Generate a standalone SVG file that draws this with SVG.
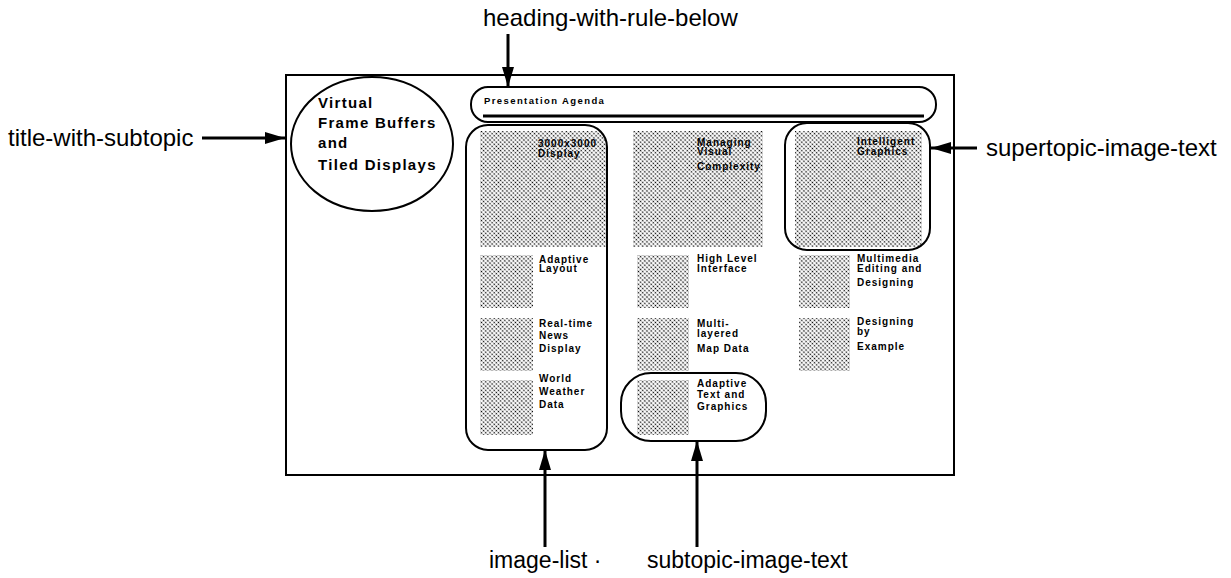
<svg xmlns="http://www.w3.org/2000/svg" width="1231" height="578" viewBox="0 0 1231 578">
  <style>
    .label { font-family: "Liberation Sans", Arial, sans-serif; font-size: 23px; fill: #000; }
    .label-lg { font-size: 24px; }
    .title { font-family: "Liberation Sans", Arial, sans-serif; font-size: 15px; font-weight: bold; letter-spacing: 1.3px; fill: #000; }
    .tiny { font-family: "Liberation Sans", Arial, sans-serif; font-size: 10px; font-weight: bold; letter-spacing: 1px; fill: #000; }
    .head { font-family: "Liberation Sans", Arial, sans-serif; font-size: 9.5px; font-weight: bold; letter-spacing: 1.4px; fill: #000; }
    .outline { fill: none; stroke: #000; stroke-width: 2; }
    .tile { fill: url(#stipple); }
    .conn { stroke: #000; stroke-width: 3; fill: none; marker-end: url(#head); }
  </style>
  <defs>
    <!-- fine halftone dot screen used for image placeholders -->
    <pattern id="stipple" width="3" height="3" patternUnits="userSpaceOnUse" patternTransform="rotate(45)">
      <rect width="3" height="3" fill="#fff"/>
      <circle cx="1.5" cy="1.5" r="0.85" fill="#000"/>
    </pattern>
    <marker id="head" markerUnits="userSpaceOnUse" markerWidth="22" markerHeight="14" refX="20" refY="7" orient="auto">
      <path d="M0,1 L20,7 L0,13 Z" fill="#000"/>
    </marker>
    <clipPath id="listClip">
      <rect x="466" y="125" width="141" height="325" rx="22"/>
    </clipPath>
  </defs>

  <rect width="1231" height="578" fill="#fff"/>

  <!-- page frame -->
  <g id="page">
    <rect x="286" y="75" width="668" height="400" class="outline"/>
  </g>

  <!-- title ellipse -->
  <g id="title-with-subtopic">
    <ellipse cx="372" cy="144" rx="81" ry="67" class="outline"/>
    <text class="title" x="318" y="108">Virtual</text>
    <text class="title" x="318" y="128">Frame Buffers</text>
    <text class="title" x="318" y="148">and</text>
    <text class="title" x="318" y="170">Tiled Displays</text>
  </g>

  <!-- heading bar with rule -->
  <g id="heading-with-rule-below">
    <rect x="471" y="87" width="465" height="35" rx="17" class="outline"/>
    <line x1="483" y1="116" x2="924" y2="116" stroke="#000" stroke-width="3"/>
    <text class="head" x="484" y="104">Presentation Agenda</text>
  </g>

  <!-- left column: image list -->
  <g id="image-list">
    <rect x="480" y="131" width="126" height="116" class="tile" clip-path="url(#listClip)"/>
    <text class="tiny" x="538" y="147">3000x3000</text>
    <text class="tiny" x="538" y="157">Display</text>
    <rect x="480" y="255" width="53" height="53" class="tile"/>
    <text class="tiny" x="539" y="263">Adaptive</text>
    <text class="tiny" x="539" y="272">Layout</text>
    <rect x="480" y="318" width="53" height="53" class="tile"/>
    <text class="tiny" x="539" y="327">Real-time</text>
    <text class="tiny" x="539" y="339">News</text>
    <text class="tiny" x="539" y="352">Display</text>
    <rect x="480" y="380" width="53" height="55" class="tile"/>
    <text class="tiny" x="539" y="382">World</text>
    <text class="tiny" x="539" y="395">Weather</text>
    <text class="tiny" x="539" y="408">Data</text>
    <rect x="466" y="125" width="141" height="325" rx="22" class="outline"/>
  </g>

  <!-- middle column -->
  <g id="middle-column">
    <rect x="633" y="131" width="130" height="116" class="tile"/>
    <text class="tiny" x="697" y="146">Managing</text>
    <text class="tiny" x="697" y="155">Visual</text>
    <text class="tiny" x="697" y="170">Complexity</text>
    <rect x="637" y="255" width="52" height="53" class="tile"/>
    <text class="tiny" x="697" y="262">High Level</text>
    <text class="tiny" x="697" y="272">Interface</text>
    <rect x="637" y="318" width="52" height="53" class="tile"/>
    <text class="tiny" x="697" y="327">Multi-</text>
    <text class="tiny" x="697" y="337">layered</text>
    <text class="tiny" x="697" y="352">Map Data</text>
  </g>

  <!-- subtopic tile -->
  <g id="subtopic-image-text">
    <rect x="637" y="380" width="52" height="55" class="tile"/>
    <text class="tiny" x="697" y="387">Adaptive</text>
    <text class="tiny" x="697" y="398">Text and</text>
    <text class="tiny" x="697" y="410">Graphics</text>
    <rect x="621" y="373" width="145" height="68" rx="30" class="outline"/>
  </g>

  <!-- supertopic tile -->
  <g id="supertopic-image-text">
    <rect x="795" y="131" width="127" height="116" class="tile"/>
    <text class="tiny" x="857" y="145">Intelligent</text>
    <text class="tiny" x="857" y="155">Graphics</text>
    <rect x="785" y="123" width="145" height="127" rx="22" class="outline"/>
  </g>

  <!-- right column -->
  <g id="right-column">
    <rect x="799" y="255" width="51" height="53" class="tile"/>
    <text class="tiny" x="857" y="262">Multimedia</text>
    <text class="tiny" x="857" y="272">Editing and</text>
    <text class="tiny" x="857" y="286">Designing</text>
    <rect x="799" y="318" width="51" height="53" class="tile"/>
    <text class="tiny" x="857" y="325">Designing</text>
    <text class="tiny" x="857" y="335">by</text>
    <text class="tiny" x="857" y="350">Example</text>
  </g>

  <!-- callout arrows -->
  <g id="connectors">
    <line x1="508" y1="34" x2="508" y2="87" class="conn"/>
    <line x1="202" y1="138" x2="285" y2="138" class="conn"/>
    <line x1="977" y1="148" x2="931" y2="148" class="conn"/>
    <line x1="545" y1="547" x2="545" y2="450" class="conn"/>
    <line x1="697" y1="547" x2="697" y2="441" class="conn"/>
  </g>

  <!-- callout labels -->
  <g id="labels">
    <text class="label label-lg" x="483" y="26">heading-with-rule-below</text>
    <text class="label label-lg" x="8" y="146">title-with-subtopic</text>
    <text class="label label-lg" x="986" y="156">supertopic-image-text</text>
    <text class="label" x="489" y="568">image-list ·</text>
    <text class="label" x="647" y="568">subtopic-image-text</text>
  </g>
</svg>
